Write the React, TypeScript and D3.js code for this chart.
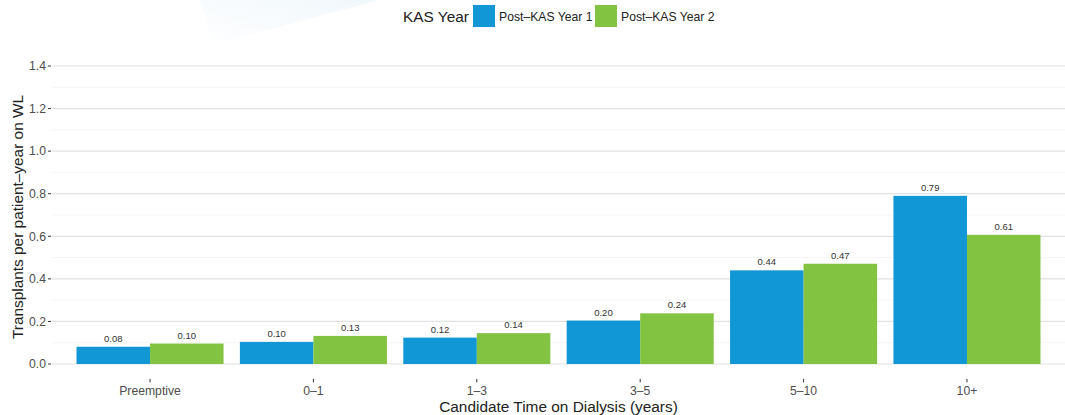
import React from "react";
import * as d3 from "d3";

const categories = ["Preemptive", "0\u20131", "1\u20133", "3\u20135", "5\u201310", "10+"];
const seriesNames = ["Post\u2013KAS Year 1", "Post\u2013KAS Year 2"];
const year1 = [0.081, 0.104, 0.124, 0.204, 0.44, 0.79];
const year2 = [0.096, 0.132, 0.145, 0.238, 0.471, 0.607];
const colors = ["#1197D6", "#82C341"];
const yTicks = [0, 0.2, 0.4, 0.6, 0.8, 1.0, 1.2, 1.4];
const yMinor = [0.1, 0.3, 0.5, 0.7, 0.9, 1.1, 1.3];

const W = 1065;
const H = 415;
const panel = { left: 52, right: 1065, top: 51.1, bottom: 378.9 };
const FONT = "'Liberation Sans', Arial, Helvetica, sans-serif";
const TITLE = 15.4;
const TICK = 12.2;

export default function App() {
  const y = d3.scaleLinear().domain([-0.07, 1.47]).range([panel.bottom, panel.top]);
  const x0 = d3
    .scaleBand<string>()
    .domain(categories)
    .range([panel.left, panel.right])
    .paddingInner(0)
    .paddingOuter(0.1);
  const bw = x0.bandwidth();
  const x1 = d3
    .scaleBand<string>()
    .domain(seriesNames)
    .range([0.05 * bw, 0.95 * bw])
    .padding(0);
  const seriesValues = [year1, year2];

  return (
    <svg
      width={W}
      height={H}
      style={{ position: "absolute", left: 0, top: 0, background: "#fff" }}
      fontFamily={FONT}
    >
      <defs>
        <linearGradient id="deco" x1="1" y1="0" x2="0" y2="1">
          <stop offset="0" stopColor="#eaf4fa" />
          <stop offset="1" stopColor="#ffffff" />
        </linearGradient>
      </defs>
      <polygon points="200,0 378,0 214,45" fill="url(#deco)" opacity={0.7} />

      {/* minor grid */}
      {yMinor.map((t) => (
        <line
          key={"mi" + t}
          x1={panel.left}
          x2={panel.right}
          y1={y(t)}
          y2={y(t)}
          stroke="#f2f2f2"
          strokeWidth={0.8}
        />
      ))}
      {/* major grid */}
      {yTicks.map((t) => (
        <line
          key={"ma" + t}
          x1={panel.left}
          x2={panel.right}
          y1={y(t)}
          y2={y(t)}
          stroke="#e2e2e2"
          strokeWidth={1.2}
        />
      ))}

      {/* y axis ticks & labels */}
      {yTicks.map((t) => (
        <g key={"yt" + t}>
          <line x1={48} x2={51} y1={y(t)} y2={y(t)} stroke="#333" strokeWidth={1} />
          <text
            x={46}
            y={y(t)}
            dy="0.35em"
            textAnchor="end"
            fontSize={TICK}
            fill="#4d4d4d"
          >
            {t.toFixed(1)}
          </text>
        </g>
      ))}

      {/* bars */}
      {categories.map((c, i) => (
        <g key={c} transform={`translate(${x0(c)},0)`}>
          {seriesNames.map((s, j) => {
            const v = seriesValues[j][i];
            const bx = x1(s) as number;
            return (
              <g key={s}>
                <rect
                  x={bx}
                  y={y(v)}
                  width={x1.bandwidth()}
                  height={y(0) - y(v)}
                  fill={colors[j]}
                />
                <text
                  x={bx + x1.bandwidth() / 2}
                  y={y(v) - 5}
                  textAnchor="middle"
                  fontSize={9.5}
                  fill="#333"
                >
                  {v.toFixed(2)}
                </text>
              </g>
            );
          })}
        </g>
      ))}

      {/* x axis ticks & labels */}
      {categories.map((c) => {
        const cx = (x0(c) as number) + bw / 2;
        return (
          <g key={"xt" + c}>
            <line x1={cx} x2={cx} y1={panel.bottom} y2={panel.bottom + 3.5} stroke="#333" />
            <text x={cx} y={394.5} textAnchor="middle" fontSize={TICK} fill="#4d4d4d">
              {c}
            </text>
          </g>
        );
      })}

      {/* axis titles */}
      <text
        x={(panel.left + panel.right) / 2}
        y={412}
        textAnchor="middle"
        fontSize={TITLE}
        fill="#222"
      >
        Candidate Time on Dialysis (years)
      </text>
      <text
        transform={`translate(22.5,${(panel.top + panel.bottom) / 2 + 2}) rotate(-90)`}
        textAnchor="middle"
        fontSize={TITLE}
        fill="#222"
      >
        Transplants per patient{"\u2013"}year on WL
      </text>

      {/* legend */}
      <text x={403} y={21.5} fontSize={TITLE} fill="#222">
        KAS Year
      </text>
      <rect x={473} y={5} width={22} height={22} fill={colors[0]} />
      <text x={499} y={20.5} fontSize={TICK} fill="#222">
        {seriesNames[0]}
      </text>
      <rect x={595} y={5} width={22} height={22} fill={colors[1]} />
      <text x={621} y={20.5} fontSize={TICK} fill="#222">
        {seriesNames[1]}
      </text>
    </svg>
  );
}
